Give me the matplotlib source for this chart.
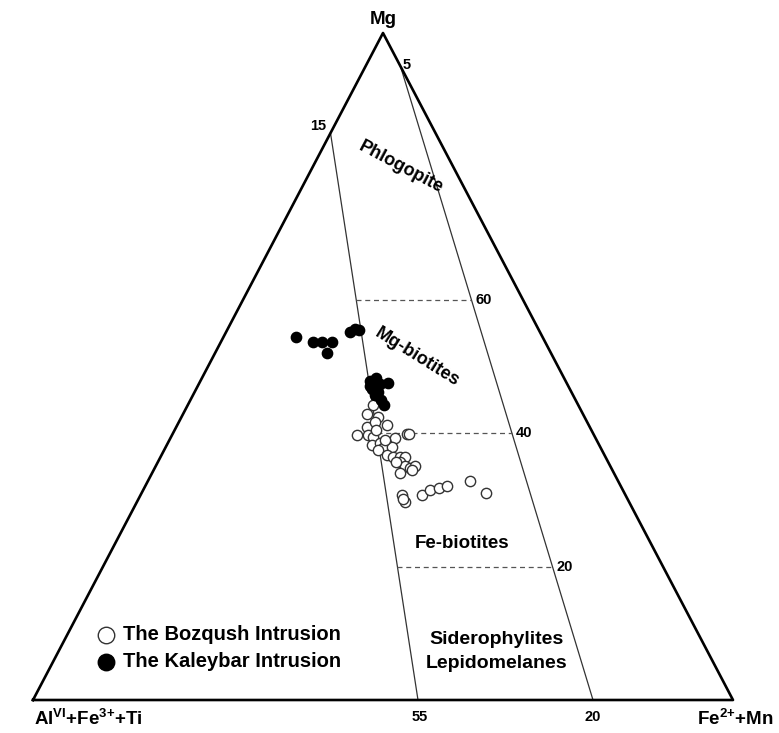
import matplotlib.pyplot as plt
import numpy as np

plt.rcParams['font.family'] = 'Liberation Sans'
plt.rcParams['font.weight'] = 'bold'
plt.rcParams['mathtext.fontset'] = 'custom'
plt.rcParams['mathtext.rm'] = 'Liberation Sans:bold'
plt.rcParams['mathtext.bf'] = 'Liberation Sans:bold'

# compositions in % (Mg, Fe2+ + Mn); AlVI+Fe3++Ti is the remainder
kal_mg = [54.4, 53.7, 53.7, 53.7, 52.0, 55.2, 55.6, 55.5, 47.8, 48.3, 47.4, 47.5,
          46.6, 47.1, 46.2, 45.0, 44.2, 45.7]
kal_fe = [10.4, 13.1, 14.4, 15.9, 16.0, 17.7, 18.2, 18.8, 24.2, 24.9, 25.9, 26.9,
          25.1, 24.6, 26.2, 27.2, 28.0, 26.0]

boz_mg = [44.2, 42.9, 42.4, 41.2, 40.9, 41.7, 39.7, 39.7, 39.4, 39.3, 39.9, 39.9,
          38.2, 38.5, 37.8, 37.9, 37.5, 36.7, 36.4, 36.4, 36.4, 35.7, 35.1, 34.8,
          35.1, 34.0, 34.5, 30.7, 29.7, 30.7, 31.5, 31.8, 32.1, 32.8, 31.0,
          35.7, 30.1, 40.5, 39.0]
boz_fe = [26.5, 26.3, 28.1, 30.0, 27.3, 28.0, 26.4, 28.0, 28.9, 32.1, 33.5, 33.8,
          29.3, 30.3, 31.1, 32.3, 30.5, 32.2, 33.2, 34.2, 34.9, 34.6, 35.6, 36.5,
          37.0, 35.4, 36.9, 37.4, 38.3, 40.2, 41.0, 42.1, 43.1, 46.0, 49.2,
          34.0, 37.8, 28.7, 30.8]

# field boundaries: (Al, Fe, Mg) end points
line1 = [(15, 0, 85), (45, 55, 0)]
line2 = [(0, 5, 95), (20, 80, 0)]
mg_levels = [60, 40, 20]


def xy(fe, mg):
    fe = np.asarray(fe, float)
    mg = np.asarray(mg, float)
    return fe + mg / 2, mg


def on_line(line, mg):
    (a0, f0, m0), (a1, f1, m1) = line
    t = (m0 - mg) / (m0 - m1)
    return f0 + t * (f1 - f0), mg


fig = plt.figure(figsize=(7.79, 7.33), dpi=100)
ax = fig.add_axes([33 / 779, 33 / 733, 700 / 779, 667 / 733])
ax.set_xlim(0, 100)
ax.set_ylim(0, 100)
ax.axis('off')

tx, ty = xy([0, 100, 0, 0], [0, 0, 100, 0])
ax.plot(tx, ty, color='black', lw=1.9, clip_on=False, zorder=3)

for line in [line1, line2]:
    fe = [p[1] for p in line]
    mg = [p[2] for p in line]
    lx, ly = xy(fe, mg)
    ax.plot(lx, ly, color='#333333', lw=0.9, zorder=2)

for m in mg_levels:
    f1, _ = on_line(line1, m)
    f2, _ = on_line(line2, m)
    lx, ly = xy([f1, f2], [m, m])
    ax.plot(lx, ly, color='#555555', lw=0.9, ls=(0, (4, 3)), zorder=2)
    ax.text(lx[1] + 0.6, m, str(m), fontsize=10.5, ha='left', va='center')

bx, by = xy(boz_fe, boz_mg)
ax.scatter(bx, by, s=55, facecolor='white', edgecolor='#333333', linewidth=1.0,
           zorder=4, label='The Bozqush Intrusion')
kx, ky = xy(kal_fe, kal_mg)
ax.scatter(kx, ky, s=55, facecolor='black', edgecolor='black', linewidth=1.0,
           zorder=5, label='The Kaleybar Intrusion')

# tick labels on boundaries
ax.text(40.7, 86.0, '15', fontsize=10.5, ha='center', va='center')
ax.text(53.4, 95.2, '5', fontsize=10.5, ha='center', va='center')
ax.text(55.2, -2.5, '55', fontsize=10.5, ha='center', va='center')
ax.text(80, -2.5, '20', fontsize=10.5, ha='center', va='center')

# apex labels
ax.text(50, 102.0, 'Mg', fontsize=13.5, ha='center', va='center')
ax.text(0.2, -1.2, r'Al$^{\mathrm{VI}}$+Fe$^{\mathrm{3{+}}}$+Ti', fontsize=13.5,
        ha='left', va='top')
ax.text(94.9, -1.2, r'Fe$^{\mathrm{2{+}}}$+Mn', fontsize=13.5, ha='left', va='top',
        clip_on=False)

# field names
ax.text(52.6, 79.8, 'Phlogopite', fontsize=13, rotation=-28, ha='center', va='center')
ax.text(54.9, 51.4, 'Mg-biotites', fontsize=13, rotation=-32, ha='center', va='center')
ax.text(61.3, 23.5, 'Fe-biotites', fontsize=13.5, ha='center', va='center')
ax.text(66.2, 7.3, 'Siderophylites\nLepidomelanes', fontsize=14, ha='center',
        va='center', linespacing=1.5)

ax.legend(loc='upper left', bbox_to_anchor=(85 / 779, 1 - 615 / 733),
          bbox_transform=fig.transFigure, frameon=False, fontsize=14.5,
          markerscale=1.6, handletextpad=0.3, labelspacing=0.4, borderpad=0,
          handlelength=1.1)

fig.savefig('out.png', dpi=100)
